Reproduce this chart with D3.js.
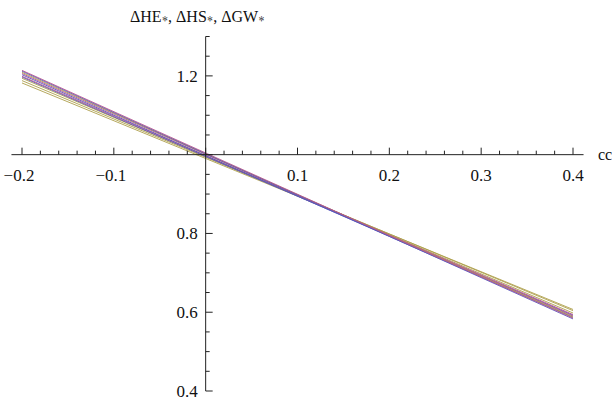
<!DOCTYPE html>
<html>
<head>
<meta charset="utf-8">
<script src="https://cdn.jsdelivr.net/npm/d3@7/dist/d3.min.js"></script>
<style>
  html, body { margin: 0; padding: 0; background: #fff; }
  svg { display: block; }
</style>
</head>
<body>
<svg id="chart" width="612" height="401"></svg>
<script>
// cc values at which each curve is sampled
const ccValues = [-0.2, 0, 0.2, 0.4];

// ΔHE*, ΔHS*, ΔGW* curves for several parameter sets
const heA = [1.212, 1.0023, 0.7927, 0.583];
const hsA = [1.214, 1.0043, 0.7947, 0.585];
const gwA = [1.209, 1.0020, 0.7950, 0.588];
const hsB = [1.206, 1.0007, 0.7953, 0.590];
const heB = [1.203, 0.9977, 0.7923, 0.587];
const hsC = [1.199, 0.9973, 0.7957, 0.594];
const heC = [1.197, 0.9953, 0.7937, 0.592];
const gwB = [1.194, 0.9953, 0.7967, 0.598];
const gwC = [1.188, 0.9933, 0.7987, 0.604];
const gwD = [1.182, 0.9903, 0.7987, 0.607];

const blue = "#5656bc", magenta = "#b4568e", gold = "#ae9f4c";
const seriesList = [
  { values: gwD, color: gold },
  { values: gwC, color: gold },
  { values: gwB, color: gold },
  { values: heC, color: blue },
  { values: hsC, color: magenta },
  { values: heB, color: blue },
  { values: hsB, color: magenta },
  { values: gwA, color: gold },
  { values: heA, color: blue },
  { values: hsA, color: magenta }
];

// tick labels
const xTickLabels = [-0.2, -0.1, 0.1, 0.2, 0.3, 0.4];
const yTickLabels = [0.4, 0.6, 0.8, 1.2];

const serif = '"Liberation Serif"';
const svg = d3.select("#chart");

const x = d3.scaleLinear().domain([-0.2, 0.4]).range([22, 573]);
const y = d3.scaleLinear().domain([0.4, 1.3]).range([391, 36.5]);

const axisColor = "#222";
const xAxisY = y(1.0);
const yAxisX = x(0);

// curves
const line = d3.line()
  .x((d, i) => x(ccValues[i]))
  .y(d => y(d));

svg.append("g")
  .selectAll("path")
  .data(seriesList)
  .join("path")
  .attr("d", d => line(d.values))
  .attr("fill", "none")
  .attr("stroke", d => d.color)
  .attr("stroke-width", 0.9);

// x axis
const gx = svg.append("g");
gx.append("line")
  .attr("x1", x(-0.2115)).attr("x2", x(0.4115))
  .attr("y1", xAxisY).attr("y2", xAxisY)
  .attr("stroke", axisColor).attr("stroke-width", 1);

const xMinor = d3.range(-0.2, 0.4001, 0.02).map(v => +v.toFixed(2));
gx.selectAll("line.tick")
  .data(xMinor)
  .join("line")
  .attr("class", "tick")
  .attr("x1", d => x(d)).attr("x2", d => x(d))
  .attr("y1", xAxisY)
  .attr("y2", d => Math.abs(Math.round(d * 10) - d * 10) < 1e-6 ? xAxisY - 7 : xAxisY - 4)
  .attr("stroke", axisColor).attr("stroke-width", 1);

gx.selectAll("text")
  .data(xTickLabels)
  .join("text")
  .attr("x", d => x(d) - (d < 0 ? 3 : 0))
  .attr("y", xAxisY + 26)
  .attr("text-anchor", "middle")
  .attr("font-size", 17)
  .attr("fill", "#111")
  .style("font-family", serif)
  .text(d => d3.format(".1f")(d).replace("-", "\u2212"));

// y axis
const gy = svg.append("g");
gy.append("line")
  .attr("x1", yAxisX).attr("x2", yAxisX)
  .attr("y1", y(1.3)).attr("y2", y(0.4))
  .attr("stroke", axisColor).attr("stroke-width", 1);

const yMinor = d3.range(0.4, 1.3001, 0.05).map(v => +v.toFixed(2));
gy.selectAll("line.tick")
  .data(yMinor)
  .join("line")
  .attr("class", "tick")
  .attr("y1", d => y(d)).attr("y2", d => y(d))
  .attr("x1", yAxisX)
  .attr("x2", d => Math.abs(Math.round(d * 5) - d * 5) < 1e-6 ? yAxisX + 7 : yAxisX + 4)
  .attr("stroke", axisColor).attr("stroke-width", 1);

gy.selectAll("text")
  .data(yTickLabels)
  .join("text")
  .attr("x", yAxisX - 8)
  .attr("y", d => y(d) + 6)
  .attr("text-anchor", "end")
  .attr("font-size", 17)
  .attr("fill", "#111")
  .style("font-family", serif)
  .text(d => d3.format(".1f")(d));

// axis titles
const title = svg.append("text")
  .attr("x", 130)
  .attr("y", 22)
  .attr("font-size", 16)
  .attr("fill", "#111")
  .style("font-family", serif);
[["\u0394HE", "\u2217", ", "], ["\u0394HS", "\u2217", ", "], ["\u0394GW", "\u2217", ""]].forEach(p => {
  title.append("tspan").text(p[0]);
  title.append("tspan").style("font-family", '"FreeSerif", "Liberation Serif"')
    .attr("font-size", 16).attr("dy", 1).text(p[1]);
  title.append("tspan").attr("dy", -1).text(p[2]);
});

svg.append("text")
  .attr("x", 598)
  .attr("y", xAxisY + 5)
  .attr("font-size", 16)
  .attr("fill", "#111")
  .style("font-family", serif)
  .text("cc");
</script>
</body>
</html>
